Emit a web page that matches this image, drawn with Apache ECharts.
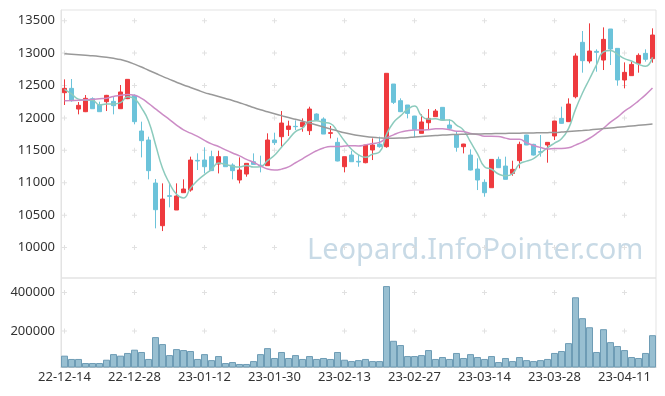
<!DOCTYPE html>
<html><head><meta charset="utf-8">
<script src="https://cdn.jsdelivr.net/npm/echarts@6/dist/echarts.min.js"></script>
<style>html,body{margin:0;padding:0;background:#fff}#c{width:665px;height:396px}</style>
</head><body><div id="c"></div>
<script>
const dates = ['22-12-14','22-12-15','22-12-16','22-12-19','22-12-20','22-12-21','22-12-22','22-12-23','22-12-26','22-12-27','22-12-28','22-12-29',
'23-01-02','23-01-03','23-01-04','23-01-05','23-01-06','23-01-09','23-01-10','23-01-11','23-01-12','23-01-13','23-01-16','23-01-17','23-01-18','23-01-19','23-01-20','23-01-25','23-01-26','23-01-27','23-01-30','23-01-31',
'23-02-01','23-02-02','23-02-03','23-02-06','23-02-07','23-02-08','23-02-09','23-02-10','23-02-13','23-02-14','23-02-15','23-02-16','23-02-17','23-02-20','23-02-21','23-02-22','23-02-23','23-02-24','23-02-27','23-02-28',
'23-03-02','23-03-03','23-03-06','23-03-07','23-03-08','23-03-09','23-03-10','23-03-13','23-03-14','23-03-15','23-03-16','23-03-17','23-03-20','23-03-21','23-03-22','23-03-23','23-03-24','23-03-27','23-03-28','23-03-29','23-03-30','23-03-31',
'23-04-03','23-04-04','23-04-05','23-04-06','23-04-07','23-04-10','23-04-11','23-04-12','23-04-13','23-04-14','23-04-17'];

const open  = [12389,12456,12137,12096,12297,12199,12250,12255,12142,12297,12348,11798,11659,10995,10337,10800,10579,10846,10887,11345,
11350,11402,11288,11402,11273,11042,11134,11324,11270,11263,11659,11710,11823,11870,11865,11803,12060,11983,11762,11623,
11247,11427,11330,11309,11505,11597,11556,12523,12266,12199,12029,11762,11926,12019,12163,11890,11736,11556,11427,11211,
11006,10923,11360,11257,11144,11340,11736,11592,11480,11582,11721,11993,11942,12327,13166,12878,13027,12893,13372,13073,
12585,12652,12842,12996,12914];
const close = [12456,12266,12194,12302,12142,12096,12348,12189,12400,12595,11942,11649,11186,10584,10748,10790,10795,10903,11350,11335,
11247,11186,11402,11247,11186,11196,11299,11283,11262,11659,11618,11921,11875,11865,11931,12137,11967,11751,11772,11335,
11402,11324,11320,11582,11582,11556,12688,12240,12096,12070,11823,11937,11993,12106,11967,11839,11546,11597,11196,11042,
10846,11360,11232,11052,11206,11592,11582,11427,11470,11623,11952,11916,12214,12955,12883,13032,13012,13212,13063,12585,
12703,12826,12965,12904,13279];
const low   = [12199,12250,12055,12090,12140,12096,12106,12055,12142,12290,11901,11391,11052,10296,10254,10620,10579,10846,10862,11196,
11144,11186,11144,11247,11052,10990,11093,11283,11160,11263,11582,11556,11721,11813,11787,11736,11960,11751,11684,11330,
11160,11324,11247,11300,11350,11540,11540,12214,12090,11993,11695,11762,11813,12019,11960,11830,11479,11453,11190,10887,
10784,10923,11232,11052,11108,11222,11580,11420,11402,11309,11659,11910,11940,12302,12698,12842,12713,12739,12816,12497,
12456,12650,12698,12868,12852];
const high  = [12595,12600,12245,12353,12317,12250,12355,12338,12508,12600,12363,11942,11710,11057,10990,10980,10990,11052,11402,11453,
11546,11494,11494,11402,11299,11391,11299,11453,11417,11762,11772,12106,11957,11962,11993,12173,12070,12009,11875,11695,
11402,11494,11427,11582,11684,11710,12688,12523,12302,12199,12029,12055,12137,12137,12163,11978,11787,11600,11515,11376,
11052,11360,11402,11402,11340,11633,11740,11600,11736,11623,11955,12173,12302,12996,13341,13459,13058,13397,13372,13075,
12857,12868,12996,13058,13382];
const volume = [73000,56000,56000,35000,35000,35000,52000,81000,73000,87000,104000,92000,56000,169000,133000,76000,107000,102000,97000,56000,
81000,50000,71000,35000,40000,30000,30000,45000,81000,112000,61000,92000,61000,76000,56000,71000,56000,61000,56000,92000,
52000,45000,50000,56000,45000,45000,433000,150000,128000,71000,71000,76000,102000,56000,66000,56000,87000,61000,81000,66000,
56000,71000,40000,61000,45000,66000,50000,45000,50000,56000,87000,97000,138000,375000,267000,220000,92000,210000,143000,123000,
102000,66000,61000,87000,179000];
const ma5  = [12440,12370,12290,12275,12272,12200,12216,12215,12235,12326,12295,12155,11954,11591,11222,10991,10821,10764,10917,11035,
11126,11204,11304,11283,11254,11243,11266,11242,11245,11340,11424,11549,11667,11788,11842,11946,11955,11930,11912,11792,
11645,11517,11431,11393,11442,11473,11746,11930,12032,12130,12183,12033,11984,11986,11965,11968,11890,11811,11629,11444,
11245,11208,11135,11106,11139,11288,11333,11372,11455,11539,11611,11678,11835,12132,12384,12600,12819,13019,13040,12981,
12915,12878,12828,12797,12935];
const ma20 = [12265,12268,12272,12280,12287,12295,12305,12330,12350,12360,12350,12300,12225,12140,12055,11975,11890,11815,11765,11714,
11653,11599,11559,11507,11459,11414,11361,11316,11259,11212,11196,11210,11244,11308,11368,11435,11493,11536,11557,11557,
11565,11572,11568,11584,11604,11622,11692,11739,11781,11802,11812,11813,11819,11831,11832,11818,11796,11789,11760,11745,
11718,11719,11715,11688,11670,11671,11616,11575,11544,11522,11528,11527,11538,11581,11627,11686,11759,11840,11934,12011,
12104,12177,12264,12356,12460];
const ma60 = [12990,12982,12974,12966,12958,12948,12936,12920,12900,12870,12830,12785,12735,12690,12640,12595,12550,12508,12470,12430,
12390,12360,12330,12300,12270,12235,12200,12160,12125,12095,12065,12035,12005,11980,11950,11920,11890,11860,11830,11800,
11772,11748,11728,11712,11700,11692,11688,11688,11690,11695,11705,11712,11720,11728,11735,11740,11745,11748,11750,11752,
11755,11757,11759,11761,11763,11765,11767,11769,11771,11773,11776,11782,11790,11798,11806,11815,11825,11835,11845,11855,
11865,11875,11885,11895,11905];
const priceTicks = [10000,10500,11000,11500,12000,12500,13000,13500];
const volumeTicks = [200000,400000];
const watermark = 'Leopard.InfoPointer.com';

const candles = dates.map((d, i) => [open[i], close[i], low[i], high[i]]);
const crossCols = dates.filter((d, i) => i % 10 === 0);
const crossMain = [], crossVol = [];
crossCols.forEach(c => { priceTicks.forEach(v => crossMain.push([c, v])); volumeTicks.forEach(v => crossVol.push([c, v])); });

const FONT = 'Noto Sans, sans-serif';
const lineC = '#e3e3e3';
const plus = 'path://M2,0h1v2h2v1h-2v2h-1v-2h-2v-1h2z';
const plain = v => String(v);

const chart = echarts.init(document.getElementById('c'));
chart.setOption({
  animation: false,
  backgroundColor: '#fff',
  textStyle: { fontFamily: FONT },
  grid: [
    { left: 61, right: 9, top: 10, height: 268, show: true, borderColor: lineC, borderWidth: 1 },
    { left: 61, right: 9, top: 278, height: 89, show: true, borderColor: lineC, borderWidth: 1 }
  ],
  xAxis: [
    { type: 'category', gridIndex: 0, data: dates, boundaryGap: true,
      axisLine: { show: false }, axisTick: { show: false }, axisLabel: { show: false }, splitLine: { show: false } },
    { type: 'category', gridIndex: 1, data: dates, boundaryGap: true,
      axisLine: { lineStyle: { color: '#d0d0d0' } }, axisTick: { show: false },
      axisLabel: { interval: 9, color: '#333', fontSize: 13, margin: 4, fontFamily: FONT }, splitLine: { show: false } }
  ],
  yAxis: [
    { type: 'value', gridIndex: 0, min: 9530, max: 13665, splitNumber: 8, scale: true,
      axisLine: { show: true, lineStyle: { color: lineC } }, axisTick: { show: false },
      axisLabel: { color: '#333', fontSize: 13, margin: 6, showMinLabel: false, showMaxLabel: false, fontFamily: FONT, formatter: plain },
      splitLine: { show: false } },
    { type: 'value', gridIndex: 1, min: 14400, max: 474700, splitNumber: 2, scale: true,
      axisLine: { show: true, lineStyle: { color: lineC } }, axisTick: { show: false },
      axisLabel: { color: '#333', fontSize: 13, margin: 6, showMinLabel: false, showMaxLabel: false, fontFamily: FONT, formatter: plain },
      splitLine: { show: false } }
  ],
  graphic: [{
    type: 'text', left: 307, top: 236, z: 0, silent: true,
    style: { text: watermark, fontSize: 29, fontFamily: 'Noto Sans', fill: '#c8dae6' }
  }],
  series: [
    { type: 'scatter', xAxisIndex: 0, yAxisIndex: 0, data: crossMain, symbol: plus, symbolSize: 5,
      itemStyle: { color: '#d9d9d9' }, silent: true, z: 1 },
    { type: 'scatter', xAxisIndex: 1, yAxisIndex: 1, data: crossVol, symbol: plus, symbolSize: 5,
      itemStyle: { color: '#d9d9d9' }, silent: true, z: 1 },
    { type: 'candlestick', xAxisIndex: 0, yAxisIndex: 0, data: candles, barWidth: '64%',
      itemStyle: { color: '#ee3a3e', color0: '#6cc3da', borderColor: '#ee3a3e', borderColor0: '#6cc3da', borderWidth: 1 }, z: 3 },
    { type: 'line', xAxisIndex: 0, yAxisIndex: 0, data: ma5, smooth: true, symbol: 'none',
      lineStyle: { color: '#8ccbbd', width: 1.5 }, z: 4 },
    { type: 'line', xAxisIndex: 0, yAxisIndex: 0, data: ma20, smooth: true, symbol: 'none',
      lineStyle: { color: '#cc8cc6', width: 1.5 }, z: 4 },
    { type: 'line', xAxisIndex: 0, yAxisIndex: 0, data: ma60, smooth: true, symbol: 'none',
      lineStyle: { color: '#999999', width: 1.5 }, z: 4 },
    { type: 'bar', xAxisIndex: 1, yAxisIndex: 1, data: volume, barCategoryGap: '0%',
      itemStyle: { color: '#98bfd1', borderColor: '#6e9cb5', borderWidth: 1 }, z: 3 }
  ]
});
</script></body></html>
